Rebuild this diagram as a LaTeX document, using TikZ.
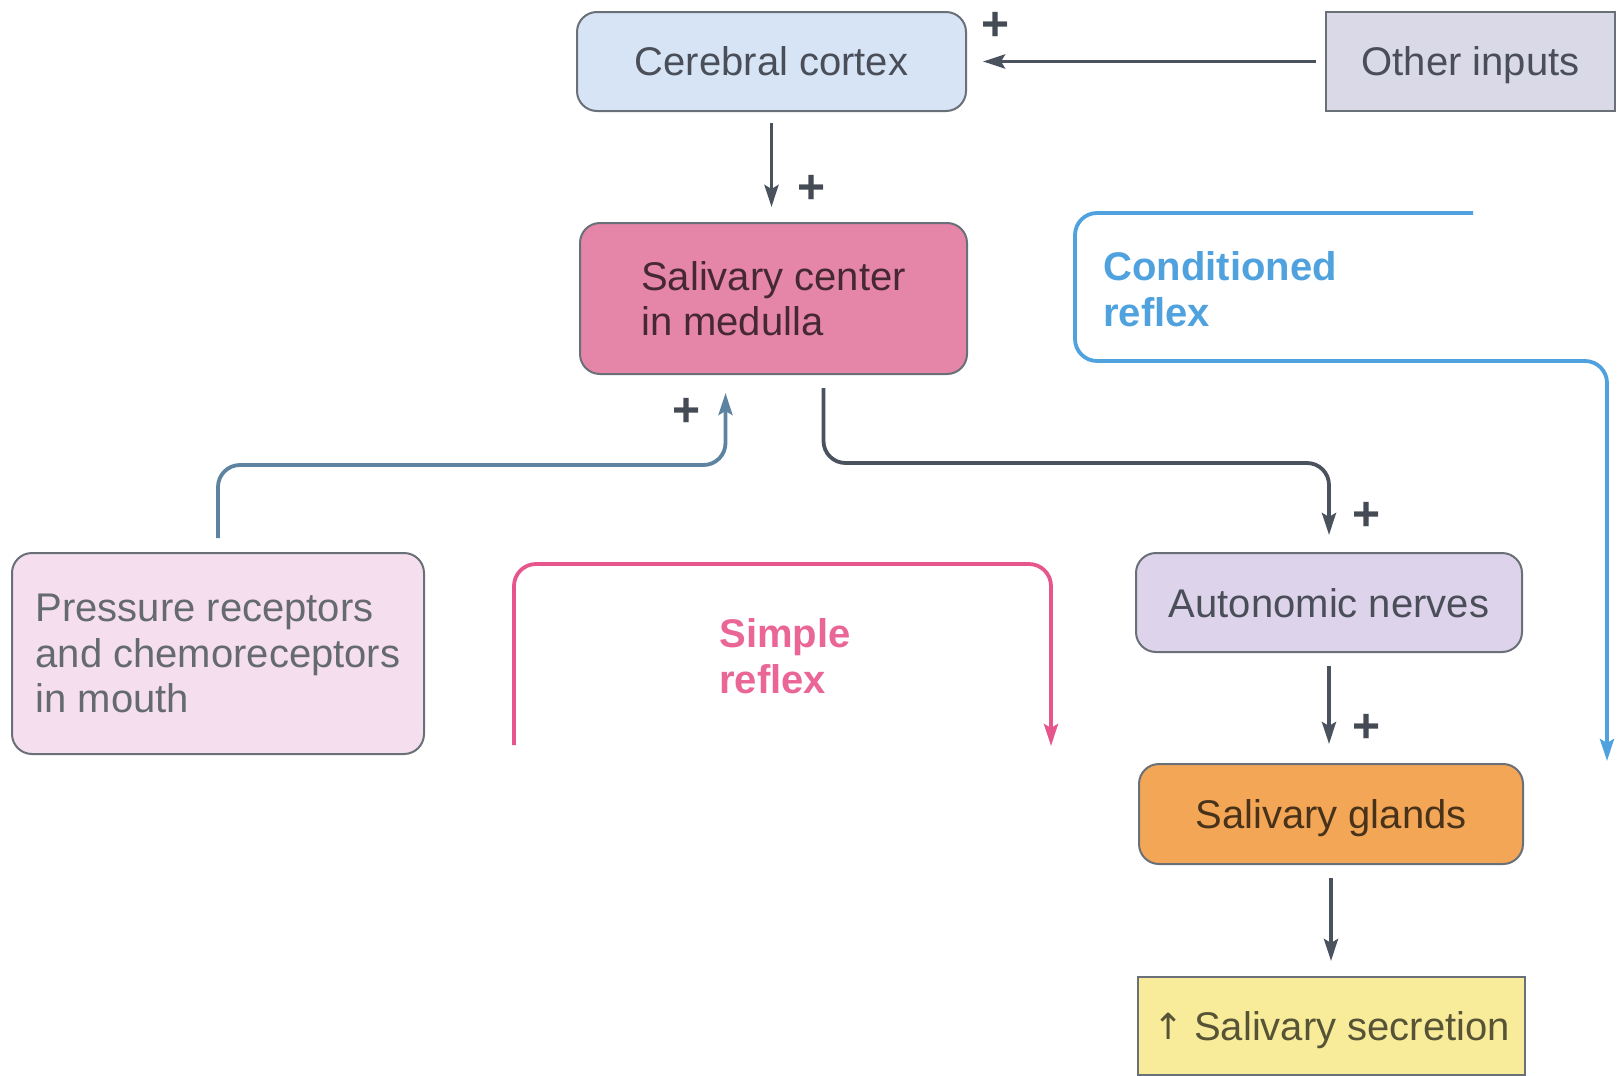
\documentclass[tikz,border=0pt]{standalone}
\usepackage{fontspec}
\setmainfont{Liberation Sans}
\usetikzlibrary{arrows.meta,calc}

\definecolor{txt}{HTML}{4A4E58}
\definecolor{edge}{HTML}{6A7078}
\definecolor{arrc}{HTML}{4A525E}
\definecolor{plusc}{HTML}{454B55}
\definecolor{condblue}{HTML}{4FA2DE}
\definecolor{simplepink}{HTML}{E6558C}
\definecolor{mouthline}{HTML}{5C84A0}
\definecolor{fcortex}{HTML}{D6E4F6}
\definecolor{fother}{HTML}{D9D9E7}
\definecolor{fcenter}{HTML}{E586A8}
\definecolor{fmouth}{HTML}{F5DFEE}
\definecolor{fauto}{HTML}{DDD3EA}
\definecolor{fglands}{HTML}{F2A656}
\definecolor{fsecr}{HTML}{F8EC9A}

\begin{document}
\begin{tikzpicture}[x=0.5pt,y=0.5pt,
  lbl/.style={font=\fontsize{20}{22.7}\selectfont, text=txt},
  box/.style={lbl, draw=edge, line width=1pt, rounded corners=10pt,
              align=left, inner sep=0pt},
  sqbox/.style={box, sharp corners},
  oneline/.style={text depth=0pt},
  plus/.style={font=\bfseries\fontsize{24}{24}\selectfont, text=plusc, inner sep=0pt},
  tip/.style={-{Stealth[length=11pt,width=7pt,inset=2pt]}},
  arr/.style={tip, draw=arrc, line width=1.9pt},
  loopline/.style={tip, line width=1.9pt, rounded corners=11pt},
  reflex/.style={font=\bfseries\fontsize{20}{22.7}\selectfont, align=left,
                 anchor=west, inner sep=0pt}
]
% canvas
\useasboundingbox[fill=white] (0,0) rectangle (1617,-1076);

% boxes
\node[box, oneline, fill=fcortex, minimum width=194.5pt, minimum height=49.5pt]
  (cortex) at (771.5,-61.5) {Cerebral cortex};
\node[sqbox, oneline, fill=fother, minimum width=144.5pt, minimum height=49.5pt]
  (other) at (1470.5,-61.5) {Other inputs};
\node[box, fill=fcenter, text=black!70!fcenter, minimum width=193.5pt, minimum height=75.5pt]
  (center) at (773.5,-298.5) {Salivary center\\in medulla};
\node[box, fill=fmouth, text=txt!85!white, minimum width=206pt, minimum height=100.5pt]
  (mouth) at (218,-653.5) {Pressure receptors\\and chemoreceptors\\in mouth};
\node[box, oneline, fill=fauto, minimum width=193pt, minimum height=49.5pt]
  (auto) at (1329,-602.5) {Autonomic nerves};
\node[box, oneline, fill=fglands, text=black!70!fglands, minimum width=192pt, minimum height=50pt]
  (glands) at (1331,-814) {Salivary glands};
\node[sqbox, oneline, fill=fsecr, text=black!65!fsecr, minimum width=193.5pt, minimum height=49pt]
  (secr) at (1331.5,-1026) {\raisebox{0.5pt}{\fontspec{DejaVu Sans}[Scale=0.9]\char"2191}\ Salivary secretion};

% straight connectors
\draw[arr, shorten <=4.5pt, shorten >=8pt] (other.west) -- (cortex.east);
\draw[arr, shorten <=5.5pt, shorten >=7.5pt] (cortex.south) -- (cortex.south |- center.north);
\draw[arr, shorten <=6.5pt, shorten >=9.5pt] (auto.south) -- (auto.south |- glands.north);
\draw[arr, shorten <=6.5pt, shorten >=7.5pt] (glands.south) -- (glands.south |- secr.north);

% mouth receptors to medulla
\draw[loopline, draw=mouthline] ($(mouth.north)+(0,14)$) |- ($(center.south)+(-48,-90)$)
  -- ($(center.south)+(-48,-18)$);
% medulla to autonomic nerves
\draw[loopline, draw=arrc] ($(center.south)+(50,-13)$) |- ($(auto.north)+(0,89)$)
  -- ($(auto.north)+(0,17)$);

% conditioned reflex loop
\coordinate (condA) at (1473,-213);
\coordinate (condB) at (1075,-361);
\coordinate (condC) at (1607,-761);
\draw[loopline, draw=condblue] (condA) -| (condB) -| (condC);
\node[reflex, text=condblue] (condlbl) at (1103,-289) {Conditioned\\reflex};

% simple reflex loop
\coordinate (simpA) at (514,-745);
\coordinate (simpB) at (1051,-564);
\coordinate (simpC) at (1051,-746);
\draw[loopline, draw=simplepink] (simpA) |- (simpB) -- (simpC);
\node[reflex, text=simplepink!90!white] (simplbl) at (719,-656) {Simple\\reflex};

% excitatory signs
\node[plus] (p1) at (996,-26) {+};
\node[plus] (p2) at (812,-189) {+};
\node[plus] (p3) at (687,-412) {+};
\node[plus] (p4) at (1366,-516) {+};
\node[plus] (p5) at (1366,-728) {+};
\end{tikzpicture}
\end{document}
